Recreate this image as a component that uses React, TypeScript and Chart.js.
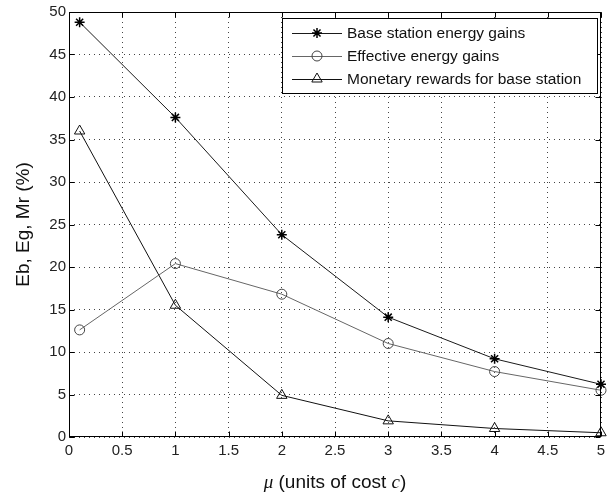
import React, { useEffect, useRef } from "react";
import { Chart, registerables } from "chart.js";
import { drawPoint } from "chart.js/helpers";

Chart.register(...registerables);

const muValues = [0.1, 1, 2, 3, 4, 5];
const baseStationGains = [48.8, 37.6, 23.8, 14.1, 9.2, 6.2];
const effectiveGains = [12.6, 20.4, 16.8, 11.0, 7.7, 5.5];
const monetaryRewards = [36.0, 15.5, 4.9, 1.9, 1.0, 0.5];

const seriesNames = [
  "Base station energy gains",
  "Effective energy gains",
  "Monetary rewards for base station",
];
const yTitle = "Eb, Eg, Mr (%)";
const xTitleParts = [
  { text: "\u03bc", italic: true },
  { text: " (units of cost ", italic: false },
  { text: "c", italic: true },
  { text: ")", italic: false },
];

const SANS = "'Liberation Sans', Arial, sans-serif";
const SERIF = "'Liberation Serif', 'Times New Roman', serif";

const framePlugin = {
  id: "frame",
  afterDatasetsDraw(chart: any) {
    const { ctx, chartArea, scales } = chart;
    const { left, right, top, bottom } = chartArea;
    const x = scales.x;
    const y = scales.y;
    ctx.save();
    ctx.strokeStyle = "#000";
    ctx.lineWidth = 1;
    ctx.setLineDash([]);
    const L = Math.round(left) + 0.5;
    const R = Math.round(right) - 0.5;
    const T = Math.round(top) + 0.5;
    const B = Math.round(bottom) - 0.5;
    ctx.strokeRect(L, T, R - L, B - T);
    ctx.beginPath();
    x.ticks.forEach((t: any) => {
      const px = Math.round(x.getPixelForValue(t.value)) + 0.5;
      ctx.moveTo(px, B);
      ctx.lineTo(px, B - 5);
      ctx.moveTo(px, T);
      ctx.lineTo(px, T + 5);
    });
    y.ticks.forEach((t: any) => {
      const py = Math.round(y.getPixelForValue(t.value)) + 0.5;
      ctx.moveTo(L, py);
      ctx.lineTo(L + 5, py);
      ctx.moveTo(R, py);
      ctx.lineTo(R - 5, py);
    });
    ctx.stroke();

    // legend
    const bx = 282.5,
      by = 18.5,
      bw = 315,
      bh = 75;
    ctx.fillStyle = "#fff";
    ctx.fillRect(bx, by, bw, bh);
    ctx.strokeRect(bx, by, bw, bh);
    chart.data.datasets.forEach((ds: any, i: number) => {
      const ry = 33 + i * 23;
      ctx.strokeStyle = ds.borderColor;
      ctx.lineWidth = ds.borderWidth;
      ctx.beginPath();
      ctx.moveTo(292, ry + 0.5);
      ctx.lineTo(342, ry + 0.5);
      ctx.stroke();
      ctx.strokeStyle = ds.pointBorderColor;
      ctx.fillStyle = ds.pointBackgroundColor;
      ctx.lineWidth = ds.pointBorderWidth;
      drawPoint(
        ctx,
        {
          pointStyle: ds.pointStyle,
          radius: ds.pointRadius,
          rotation: 0,
          borderWidth: ds.pointBorderWidth,
        } as any,
        317,
        ry
      );
      ctx.fillStyle = "#111";
      ctx.font = `15.5px ${SANS}`;
      ctx.textBaseline = "middle";
      ctx.textAlign = "left";
      ctx.fillText(ds.label, 347, ry + 1);
    });

    // y title
    ctx.fillStyle = "#111";
    ctx.save();
    ctx.translate(24, (top + bottom) / 2);
    ctx.rotate(-Math.PI / 2);
    ctx.font = `19px ${SANS}`;
    ctx.textAlign = "center";
    ctx.textBaseline = "middle";
    ctx.fillText(yTitle, 0, 0);
    ctx.restore();

    // x title
    const fonts = xTitleParts.map((p) =>
      p.italic ? `italic 19px ${SERIF}` : `19px ${SANS}`
    );
    let total = 0;
    const widths = xTitleParts.map((p, i) => {
      ctx.font = fonts[i];
      const w = ctx.measureText(p.text).width;
      total += w;
      return w;
    });
    let cx = (left + right) / 2 - total / 2;
    ctx.textAlign = "left";
    ctx.textBaseline = "middle";
    xTitleParts.forEach((p, i) => {
      ctx.font = fonts[i];
      ctx.fillText(p.text, cx, 483);
      cx += widths[i];
    });
    ctx.restore();
  },
};

function makeData(values: number[]) {
  return muValues.map((m, i) => ({ x: m, y: values[i] }));
}

const fmt = (v: any) => String(Math.round(Number(v) * 10) / 10);

export default function App() {
  const canvasRef = useRef<HTMLCanvasElement | null>(null);

  useEffect(() => {
    if (!canvasRef.current) return;
    const chart = new Chart(canvasRef.current, {
      type: "line",
      data: {
        datasets: [
          {
            label: seriesNames[0],
            data: makeData(baseStationGains),
            borderColor: "#1a1a1a",
            borderWidth: 1,
            pointStyle: "star",
            pointRadius: 5,
            pointBorderWidth: 1.5,
            pointBorderColor: "#000",
            pointBackgroundColor: "#000",
            tension: 0,
            clip: false,
          },
          {
            label: seriesNames[1],
            data: makeData(effectiveGains),
            borderColor: "#666",
            borderWidth: 1,
            pointStyle: "circle",
            pointRadius: 5,
            pointBorderWidth: 1,
            pointBorderColor: "#444",
            pointBackgroundColor: "rgba(255,255,255,0)",
            tension: 0,
            clip: false,
          },
          {
            label: seriesNames[2],
            data: makeData(monetaryRewards),
            borderColor: "#111",
            borderWidth: 1,
            pointStyle: "triangle",
            pointRadius: 6,
            pointBorderWidth: 1,
            pointBorderColor: "#111",
            pointBackgroundColor: "rgba(255,255,255,0)",
            tension: 0,
            clip: false,
          },
        ] as any,
      },
      options: {
        animation: false,
        responsive: true,
        maintainAspectRatio: false,
        layout: { padding: { left: 0, top: 10, right: 13, bottom: 0 } },
        plugins: {
          legend: { display: false },
          tooltip: { enabled: false },
        },
        scales: {
          x: {
            type: "linear",
            min: 0,
            max: 5,
            afterFit: (s: any) => {
              s.height = 58;
            },
            ticks: {
              stepSize: 0.5,
              color: "#222",
              font: { family: SANS, size: 15 },
              padding: 5,
              maxRotation: 0,
              autoSkip: false,
              callback: fmt,
            },
            grid: {
              color: "#444",
              lineWidth: 1,
              drawTicks: false,
            },
            border: { display: false, dash: [1, 4] },
          } as any,
          y: {
            type: "linear",
            min: 0,
            max: 50,
            afterFit: (s: any) => {
              s.width = 69;
            },
            ticks: {
              stepSize: 5,
              color: "#222",
              font: { family: SANS, size: 15 },
              padding: 3,
              autoSkip: false,
              callback: fmt,
            },
            grid: {
              color: "#444",
              lineWidth: 1,
              drawTicks: false,
            },
            border: { display: false, dash: [1, 4] },
          } as any,
        },
      },
      plugins: [framePlugin],
    });
    return () => chart.destroy();
  }, []);

  return (
    <div
      style={{
        position: "fixed",
        left: 0,
        top: 0,
        width: 614,
        height: 495,
        background: "#fff",
      }}
    >
      <canvas ref={canvasRef} />
    </div>
  );
}
